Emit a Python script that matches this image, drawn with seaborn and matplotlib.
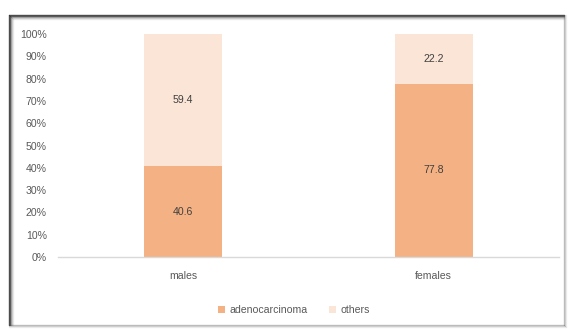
import matplotlib
matplotlib.use("Agg")
import matplotlib.pyplot as plt
from matplotlib.lines import Line2D
from matplotlib.ticker import PercentFormatter
import seaborn as sns
import pandas as pd

# Histology share by sex (%)
groups = ["males", "females"]
adenocarcinoma = [40.6, 77.8]
others = [59.4, 22.2]
series_names = ["adenocarcinoma", "others"]
series_colors = ["#F4B183", "#FBE5D6"]
y_ticks = [0, 10, 20, 30, 40, 50, 60, 70, 80, 90, 100]

sns.set_theme(style="white")
plt.rcParams["font.family"] = ["Liberation Sans", "DejaVu Sans"]
text_color = "#595959"
fs = 7.6

W, H = 571, 329
fig = plt.figure(figsize=(W / 100, H / 100), dpi=100)
fig.patch.set_facecolor("white")


def fx(px):
    return px / W


def fy(py):
    return 1 - py / H


# chart frame: dark top/left edges fading inwards, light shadow right/bottom
left, top, right, bottom = 8.5, 15.0, 564.0, 325.0
for i, a in enumerate([0.85, 0.75, 0.35, 0.18, 0.08]):
    fig.add_artist(Line2D([fx(left + i), fx(left + i)], [fy(top + i), fy(bottom)],
                          transform=fig.transFigure, color=(0.2, 0.2, 0.2, a), lw=1.0))
    fig.add_artist(Line2D([fx(left + i), fx(right)], [fy(top + i), fy(top + i)],
                          transform=fig.transFigure, color=(0.2, 0.2, 0.2, a), lw=1.0))
for i, a in enumerate([0.35, 0.2, 0.08]):
    fig.add_artist(Line2D([fx(right + i), fx(right + i)], [fy(top), fy(bottom + i)],
                          transform=fig.transFigure, color=(0.3, 0.3, 0.3, a), lw=1.0))
    fig.add_artist(Line2D([fx(left), fx(right + i)], [fy(bottom + i), fy(bottom + i)],
                          transform=fig.transFigure, color=(0.3, 0.3, 0.3, a), lw=1.0))

ax = fig.add_axes([fx(58), fy(257), fx(559 - 58), (257 - 34) / H])

df = pd.DataFrame({"group": groups, "adenocarcinoma": adenocarcinoma, "others": others})
df["total"] = df["adenocarcinoma"] + df["others"]

# stacked bars: full column in the "others" colour, adenocarcinoma drawn over its base
sns.barplot(data=df, x="group", y="total", color=series_colors[1], width=0.31,
            saturation=1, linewidth=0, ax=ax, label=series_names[1])
sns.barplot(data=df, x="group", y="adenocarcinoma", color=series_colors[0], width=0.31,
            saturation=1, linewidth=0, ax=ax, label=series_names[0])

for i, row in df.iterrows():
    ax.text(i, row["adenocarcinoma"] / 2, f"{row['adenocarcinoma']:.1f}", ha="center",
            va="center", fontsize=fs, color="#404040")
    ax.text(i, row["adenocarcinoma"] + row["others"] / 2, f"{row['others']:.1f}",
            ha="center", va="center", fontsize=fs, color="#404040")

ax.set_xlim(-0.5, 1.5)
ax.set_ylim(0, 100)
ax.set_yticks(y_ticks)
ax.yaxis.set_major_formatter(PercentFormatter(decimals=0))
ax.set_xlabel("")
ax.set_ylabel("")
for s in ["top", "right", "left"]:
    ax.spines[s].set_visible(False)
ax.spines["bottom"].set_color("#D9D9D9")
ax.spines["bottom"].set_linewidth(1.0)
ax.tick_params(axis="y", length=0, pad=8, labelsize=fs, labelcolor=text_color)
ax.tick_params(axis="x", length=0, pad=10, labelsize=fs, labelcolor=text_color)

handles, labels = ax.get_legend_handles_labels()
order = [labels.index(n) for n in series_names]
ax.legend([handles[k] for k in order], [labels[k] for k in order],
          loc="center", bbox_to_anchor=(fx(294), fy(310)), bbox_transform=fig.transFigure,
          ncol=2, frameon=False, fontsize=fs, labelcolor=text_color,
          handlelength=0.7, handleheight=0.7, handletextpad=0.4, columnspacing=2.0)

fig.savefig("out.png", dpi=100)
